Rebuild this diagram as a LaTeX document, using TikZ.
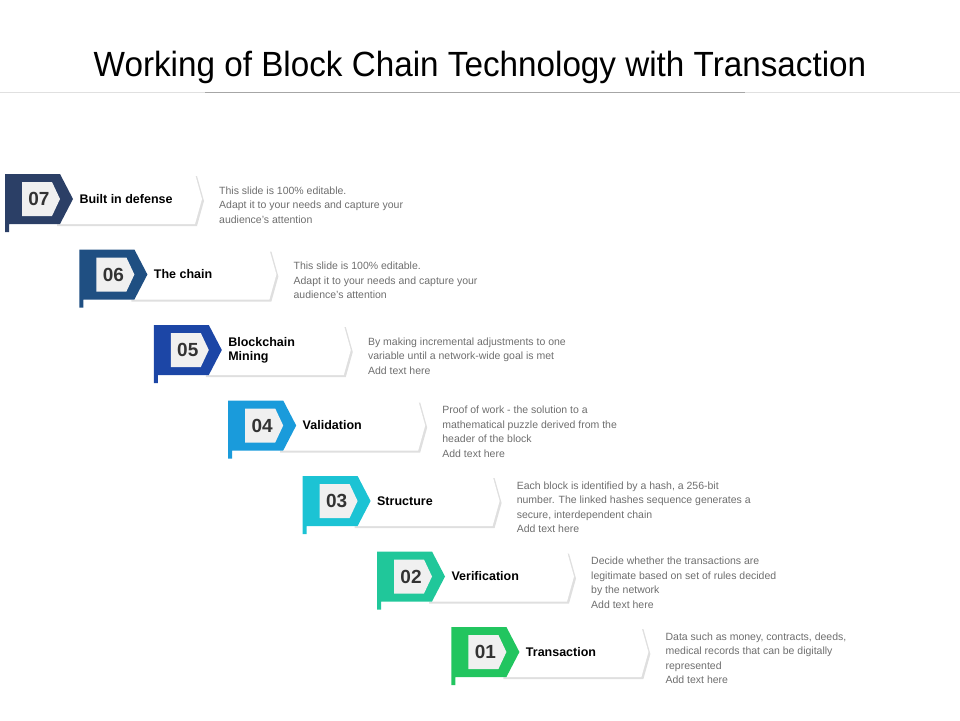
\documentclass[tikz,border=0pt]{standalone}
\usepackage{fontspec}
\setmainfont{Liberation Sans}
\usetikzlibrary{positioning,calc,shadows}

\definecolor{c7}{HTML}{2B3F66}
\definecolor{c6}{HTML}{1F4F82}
\definecolor{c5}{HTML}{1C46A6}
\definecolor{c4}{HTML}{1A9BDB}
\definecolor{c3}{HTML}{1CC3D4}
\definecolor{c2}{HTML}{20C79A}
\definecolor{c1}{HTML}{22C55F}
\definecolor{desc}{HTML}{6E6E6E}

\tikzset{
  numtxt/.style={font=\fontsize{19}{19}\selectfont\bfseries, text=black!80},
  titletxt/.style={font=\fontsize{12.5}{14}\selectfont\bfseries, align=left, anchor=west},
  desctxt/.style={font=\fontsize{10.5}{14.5}\selectfont, text=desc, align=left, anchor=west, inner sep=0pt},
  whitebox/.style={fill=white, drop shadow={shadow xshift=2pt, shadow yshift=-2pt, opacity=0.25}},
}

\begin{document}
\begin{tikzpicture}[x=1pt,y=-1pt]
	\useasboundingbox (0,0) rectangle (960,720);
	% title
	\node (title) at (480,67) {\fontsize{35}{35}\selectfont\scalebox{0.95}[1]{Working of Block Chain Technology with Transaction}};
	\draw[black!12] (0,92) -- (960,92);
	\draw[black!35, line width=1pt] (205,92) -- (745,92);

	% steps
	\foreach \n/\col/\name/\txt [count=\i from 0] in {
		07/c7/{Built in defense}/{This slide is 100\% editable.\\Adapt it to your needs and capture your\\audience's attention},
		06/c6/{The chain}/{This slide is 100\% editable.\\Adapt it to your needs and capture your\\audience's attention},
		05/c5/{Blockchain\\Mining}/{By making incremental adjustments to one\\variable until a network-wide goal is met\\Add text here},
		04/c4/{Validation}/{Proof of work - the solution to a\\mathematical puzzle derived from the\\header of the block\\Add text here},
		03/c3/{Structure}/{Each block is identified by a hash, a 256-bit\\number. The linked hashes sequence generates a\\secure, interdependent chain\\Add text here},
		02/c2/{Verification}/{Decide whether the transactions are\\legitimate based on set of rules decided\\by the network\\Add text here},
		01/c1/{Transaction}/{Data such as money, contracts, deeds,\\medical records that can be digitally\\represented\\Add text here}} {
		\pgfmathsetmacro{\xa}{5+74.4*\i}
		\pgfmathsetmacro{\ya}{199+75.5*\i}
		\begin{scope}[shift={(\xa,\ya)}]
			% white arrow
			\path[whitebox] (50,-25) -- (190,-25) -- (197,0) -- (190,25) -- (50,25) -- cycle;
			% coloured tab
			\fill[\col] (0,-25) -- (55,-25) -- (68,0) -- (55,25) -- (4,25) -- (4,33) -- (0,33) -- cycle;
			% number box
			\fill[black!6] (17,-17) -- (47,-17) -- (55,0) -- (47,17) -- (17,17) -- cycle;
			\node[numtxt] (num\n) at (34,0) {\n};
			\node[titletxt] (name\n) at (71,0) {\name};
			\node[desctxt] (desc\n) at (214,6) {\txt};
		\end{scope}
	}
\end{tikzpicture}
\end{document}
